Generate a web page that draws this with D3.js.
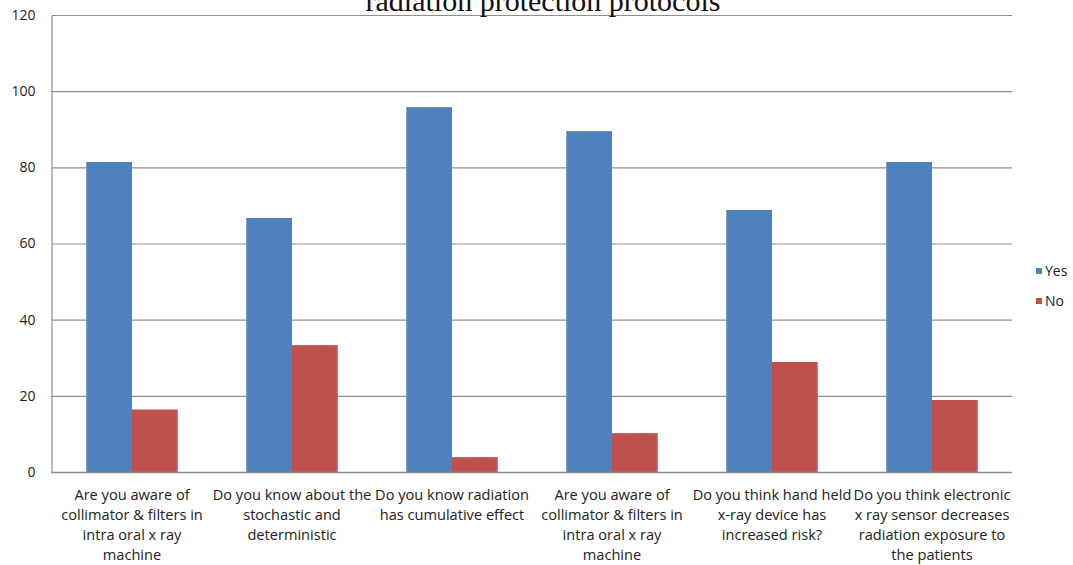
<!DOCTYPE html>
<html>
<head>
<meta charset="utf-8">
<script src="https://cdn.jsdelivr.net/npm/d3@7"></script>
<style>
  html, body { margin: 0; padding: 0; background: #fff; }
  svg { display: block; }
</style>
</head>
<body>
<svg id="chart" width="1073" height="565"></svg>
<script>
// Survey questions (x categories), one label line per array entry
const categories = [
  ["Are you aware of", "collimator & filters in", "intra oral x ray", "machine"],
  ["Do you know about the", "stochastic and", "deterministic"],
  ["Do you know radiation", "has cumulative effect"],
  ["Are you aware of", "collimator & filters in", "intra oral x ray", "machine"],
  ["Do you think hand held", "x-ray device has", "increased risk?"],
  ["Do you think electronic", "x ray sensor decreases", "radiation exposure to", "the patients"]
];
const seriesNames = ["Yes", "No"];
const yesValues = [81.4, 66.7, 95.8, 89.5, 68.8, 81.4];
const noValues  = [16.4, 33.3, 3.9, 10.2, 28.9, 18.9];
const yTicks = [0, 20, 40, 60, 80, 100, 120];
const titleText = "radiation protection protocols";

const colors = { Yes: "#4F81BD", No: "#C0504D" };
const svg = d3.select("#chart");

const plot = { left: 52, right: 1012, top: 15, bottom: 472 };

const x0 = d3.scaleBand()
  .domain(d3.range(categories.length))
  .range([plot.left, plot.right])
  .paddingInner(0.6 / 1.4)
  .paddingOuter(0.3 / 1.4);

const x1 = d3.scaleBand()
  .domain(seriesNames)
  .range([0, x0.bandwidth()]);

const y = d3.scaleLinear().domain([0, 120]).range([plot.bottom, plot.top]);

// Horizontal gridlines
svg.append("g")
  .selectAll("line")
  .data(yTicks)
  .join("line")
  .attr("x1", plot.left)
  .attr("x2", plot.right)
  .attr("y1", d => y(d) + 0.5)
  .attr("y2", d => y(d) + 0.5)
  .attr("stroke", "#8e8e8e")
  .attr("stroke-width", 1.2);

// Left axis with value labels
const yAxis = svg.append("g")
  .attr("transform", `translate(${plot.left - 0.5},0)`)
  .call(d3.axisLeft(y).tickValues(yTicks).tickSize(0).tickPadding(16));
yAxis.select(".domain").attr("stroke", "#8e8e8e").attr("stroke-width", 1.2);
yAxis.selectAll("text")
  .attr("font-family", "'Open Sans', sans-serif")
  .attr("font-size", 14)
  .attr("fill", "#222");

// Bars
const rows = categories.map((c, i) => ({ i, Yes: yesValues[i], No: noValues[i] }));
const groups = svg.append("g")
  .selectAll("g")
  .data(rows)
  .join("g")
  .attr("transform", d => `translate(${x0(d.i)},0)`);

groups.selectAll("rect")
  .data(d => seriesNames.map(k => ({ key: k, value: d[k] })))
  .join("rect")
  .attr("x", d => x1(d.key))
  .attr("width", x1.bandwidth())
  .attr("y", d => y(d.value))
  .attr("height", d => y(0) - y(d.value))
  .attr("fill", d => colors[d.key]);

// Bottom axis line
svg.append("line")
  .attr("x1", plot.left - 1)
  .attr("x2", plot.right)
  .attr("y1", plot.bottom + 0.5)
  .attr("y2", plot.bottom + 0.5)
  .attr("stroke", "#8e8e8e")
  .attr("stroke-width", 1.4);

// Category labels (multi-line)
const labels = svg.append("g")
  .selectAll("text")
  .data(categories)
  .join("text")
  .attr("x", (d, i) => x0(i) + x0.bandwidth() / 2)
  .attr("y", 500)
  .attr("text-anchor", "middle")
  .attr("font-family", "'Open Sans', sans-serif")
  .attr("font-size", 14.6)
  .attr("fill", "#222");
labels.selectAll("tspan")
  .data(d => d)
  .join("tspan")
  .attr("x", function () { return d3.select(this.parentNode).attr("x"); })
  .attr("dy", (d, j) => j === 0 ? 0 : 20)
  .text(d => d);

// Title (partially above the top edge)
svg.append("text")
  .attr("x", 543)
  .attr("y", 11)
  .attr("text-anchor", "middle")
  .attr("font-family", "'Liberation Serif', 'Times New Roman', serif")
  .attr("font-size", 30)
  .attr("fill", "#111")
  .text(titleText);

// Legend
const legend = svg.append("g")
  .selectAll("g")
  .data(seriesNames)
  .join("g")
  .attr("transform", (d, i) => `translate(1036,${268 + i * 30})`);
legend.append("rect")
  .attr("width", 6)
  .attr("height", 6)
  .attr("fill", d => colors[d]);
legend.append("text")
  .attr("x", 9)
  .attr("y", 7.5)
  .attr("font-family", "'Open Sans', sans-serif")
  .attr("font-size", 14)
  .attr("fill", "#222")
  .text(d => d);
</script>
</body>
</html>
